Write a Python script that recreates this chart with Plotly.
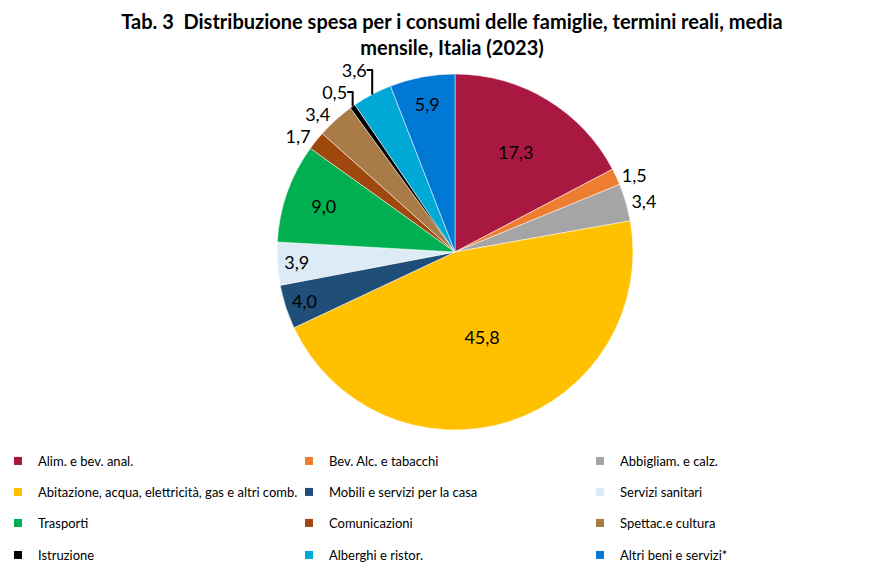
import plotly.graph_objects as go

labels = ["Alim. e bev. anal.", "Bev. Alc. e tabacchi", "Abbigliam. e calz.",
          "Abitazione, acqua, elettricità, gas e altri comb.", "Mobili e servizi per la casa",
          "Servizi sanitari", "Trasporti", "Comunicazioni", "Spettac.e cultura",
          "Istruzione", "Alberghi e ristor.", "Altri beni e servizi*"]
values = [17.3, 1.5, 3.4, 45.8, 4.0, 3.9, 9.0, 1.7, 3.4, 0.5, 3.6, 5.9]
colors = ["#A81840", "#ED7D31", "#A5A5A5", "#FFC000", "#1F4E79", "#DDEBF7",
          "#00B050", "#9E480E", "#A97B46", "#000000", "#00A8D6", "#0078D4"]
text_pos = ["inside", "outside", "outside", "inside", "inside", "inside",
            "inside", "outside", "outside", "outside", "outside", "inside"]
title = "Tab. 3  Distribuzione spesa per i consumi delle famiglie, termini reali, media<br>mensile, Italia (2023)"

W, H = 888, 579
cx, cy, r = 447, 244, 178

fig = go.Figure()
fig.add_trace(go.Pie(
    labels=labels, values=values, sort=False, direction="clockwise", rotation=0,
    marker=dict(colors=colors, line=dict(color="white", width=0.5)),
    texttemplate="%{value:.1f}", textposition=text_pos,
    insidetextorientation="horizontal",
    textfont=dict(family="Lato", size=18, color="black"),
    outsidetextfont=dict(family="Lato", size=18, color="black"),
    insidetextfont=dict(family="Lato", size=18, color="black"),
    showlegend=False, hoverinfo="label+value",
    domain=dict(x=[(cx - r) / W, (cx + r) / W], y=[1 - (cy + r) / H, 1 - (cy - r) / H]),
))

row_y = [453, 484, 515, 547]
for i, (lab, col) in enumerate(zip(labels, colors)):
    row = i // 3
    lg = "legend" if row == 0 else f"legend{row + 1}"
    fig.add_trace(go.Scatter(x=[None], y=[None], mode="markers", name=lab,
                             marker=dict(symbol="square", size=8, color=col),
                             legend=lg, showlegend=True, hoverinfo="skip"))

leg_common = dict(orientation="h", xref="paper", yref="paper", x=5 / W,
                  xanchor="left", yanchor="middle", entrywidth=261, entrywidthmode="pixels",
                  itemwidth=30, indentation=-15,
                  font=dict(family="Lato", size=13, color="black"),
                  bgcolor="rgba(0,0,0,0)", traceorder="normal")
legends = {}
for k, yy in enumerate(row_y):
    key = "legend" if k == 0 else f"legend{k + 1}"
    legends[key] = dict(leg_common, y=1 - yy / H)

fig.update_layout(
    width=W, height=H, separators=",.",
    margin=dict(l=0, r=0, t=0, b=0, autoexpand=False),
    paper_bgcolor="white", plot_bgcolor="white",
    title=dict(text=title, x=0.5, xanchor="center", y=1 - 21 / H, yanchor="middle",
               font=dict(family="Lato", size=20, color="black", weight="bold")),
    xaxis=dict(visible=False), yaxis=dict(visible=False),
    **legends,
)

fig.write_html("out.html")
